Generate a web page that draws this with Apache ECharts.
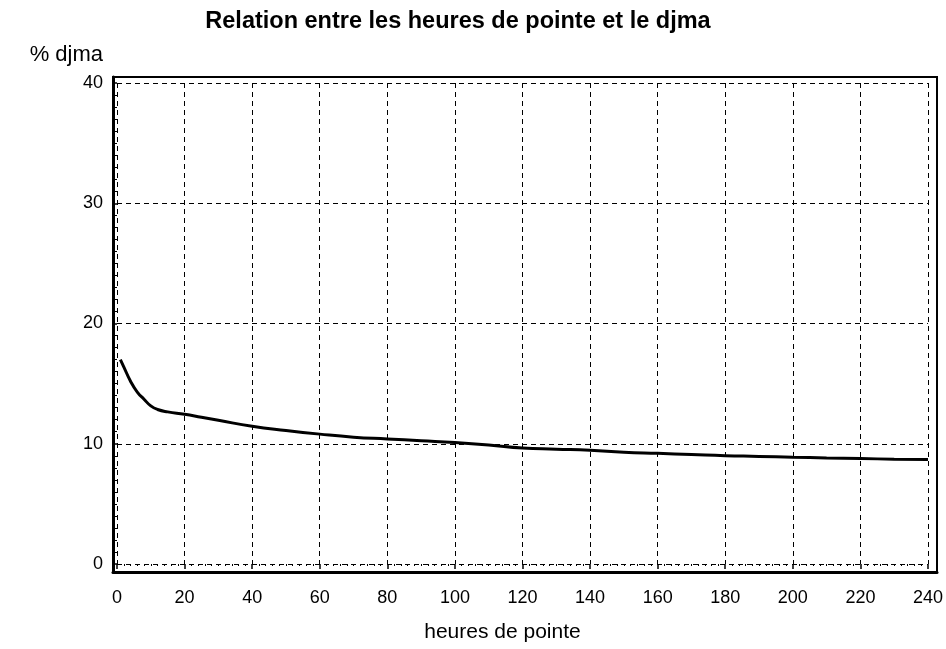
<!DOCTYPE html>
<html>
<head>
<meta charset="utf-8">
<script src="https://cdn.jsdelivr.net/npm/echarts@6/dist/echarts.min.js"></script>
<style>html,body{margin:0;padding:0;background:#fff}#c{width:946px;height:649px}</style>
</head>
<body>
<div id="c"></div>
<script>
// Data
const hours = [1, 2, 4, 6, 8, 10, 12, 15, 20, 25, 30, 40, 50, 60, 70, 80, 90, 100, 110, 120, 130, 140, 150, 160, 170, 180, 190, 200, 210, 220, 230, 240];
const pctDjma = [17.0, 16.4, 15.2, 14.3, 13.7, 13.15, 12.85, 12.65, 12.45, 12.2, 11.95, 11.45, 11.1, 10.8, 10.55, 10.4, 10.25, 10.1, 9.9, 9.65, 9.55, 9.45, 9.3, 9.2, 9.1, 9.0, 8.95, 8.88, 8.82, 8.77, 8.72, 8.7];
const titleText = 'Relation entre les heures de pointe et le djma';
const xName = 'heures de pointe';
const yName = '% djma';

const font = '"Liberation Sans", Arial, sans-serif';
const chart = echarts.init(document.getElementById('c'), null, {renderer: 'canvas'});
chart.setOption({
  animation: false,
  backgroundColor: '#fff',
  title: {
    text: titleText,
    left: 453, top: 5, textAlign: 'center',
    textStyle: {fontFamily: font, fontSize: 23.5, fontWeight: 'bold', color: '#000'}
  },
  grid: [
    {left: 117, right: 12, top: 83, bottom: 85},
    {left: 113, right: 9, top: 77, bottom: 77, show: true, borderColor: '#000', borderWidth: 2, backgroundColor: 'transparent'}
  ],
  xAxis: [
    {
      type: 'value', gridIndex: 0, min: 0, max: 240, interval: 20, offset: 8,
      name: xName, nameLocation: 'middle', nameGap: 50,
      nameTextStyle: {fontFamily: font, fontSize: 21, color: '#000', padding: [0, 40, 0, 0]},
      axisLine: {show: false},
      axisTick: {show: true, length: 5, lineStyle: {color: '#000', width: 1.5}},
      minorTick: {show: true, splitNumber: 10, length: 2, lineStyle: {color: '#000'}},
      axisLabel: {fontFamily: font, fontSize: 18, color: '#000', margin: 17},
      splitLine: {show: true, lineStyle: {color: '#000', type: [5, 4], width: 1}}
    },
    {
      type: 'value', gridIndex: 1, min: 0, max: 1,
      axisLine: {show: true, onZero: false, lineStyle: {color: '#000', width: 3}},
      axisTick: {show: false}, axisLabel: {show: false}, splitLine: {show: false}
    }
  ],
  yAxis: [
    {
      type: 'value', gridIndex: 0, min: 0, max: 40, interval: 10, offset: 4,
      name: yName, nameLocation: 'end', nameGap: 17,
      nameTextStyle: {fontFamily: font, fontSize: 22, color: '#000', align: 'right', padding: [0, 14, 0, 0]},
      axisLine: {show: false},
      axisTick: {show: true, length: 5, lineStyle: {color: '#000', width: 1.5}},
      minorTick: {show: true, splitNumber: 10, length: 2, lineStyle: {color: '#000'}},
      axisLabel: {fontFamily: font, fontSize: 18, color: '#000', margin: 10},
      splitLine: {show: true, lineStyle: {color: '#000', type: [5, 4], width: 1}}
    },
    {
      type: 'value', gridIndex: 1, min: 0, max: 1,
      axisLine: {show: true, onZero: false, lineStyle: {color: '#000', width: 3}},
      axisTick: {show: false}, axisLabel: {show: false}, splitLine: {show: false}
    }
  ],
  series: [{
    type: 'line', xAxisIndex: 0, yAxisIndex: 0,
    data: hours.map((h, i) => [h, pctDjma[i]]),
    smooth: 0.5, showSymbol: false,
    lineStyle: {color: '#000', width: 3}
  }]
});
</script>
</body>
</html>
